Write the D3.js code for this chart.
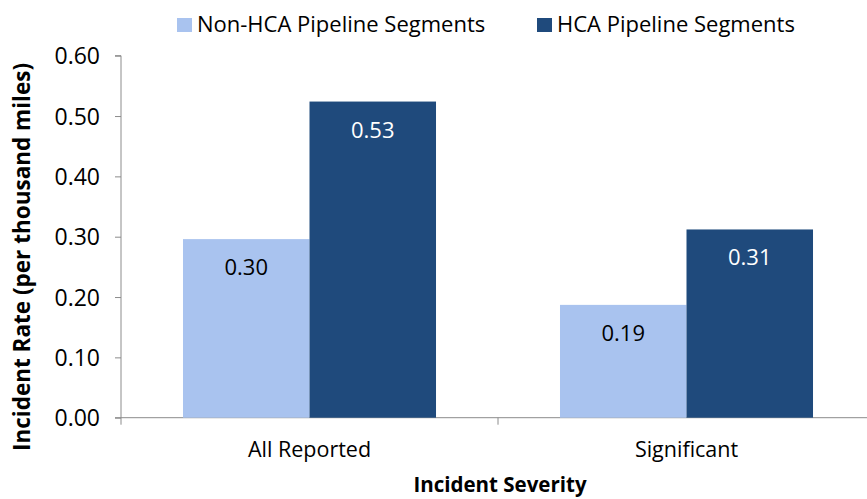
<!DOCTYPE html>
<html>
<head>
    <meta charset="utf-8">
    <title>Incident Rate by Severity</title>
    <style>
        body { margin: 0; background: #fff; }
        text { font-family: "Open Sans", sans-serif; fill: #000; }
        .axis-title { font-weight: bold; }
        .legend-text { font-size: 22px; }
        .bar-label { font-size: 22px; }
    </style>
</head>
<body>
    <div id="chart"></div>

    <script src="https://d3js.org/d3.v7.min.js"></script>
    <script>
        // data
        var categories = ["All Reported", "Significant"];
        var seriesNames = ["Non-HCA Pipeline Segments", "HCA Pipeline Segments"];
        var nonHca = [0.296, 0.187];
        var hca = [0.524, 0.312];
        var valueLabels = [["0.30", "0.19"], ["0.53", "0.31"]];
        var yTicks = [0, 0.1, 0.2, 0.3, 0.4, 0.5, 0.6];
        var colors = ["#a9c3ef", "#1f4a7c"];
        var labelColors = ["#000", "#fff"];

        var width = 867;
        var height = 499;

        var svg = d3.select("#chart")
            .append("svg")
            .attr("width", width)
            .attr("height", height);

        var y = d3.scaleLinear()
            .domain([0, 0.6])
            .range([417.7, 55.7]);

        var x0 = d3.scaleBand()
            .domain(categories)
            .range([121, 875])
            .padding(0);

        var x1 = d3.scaleBand()
            .domain([0, 1])
            .range([0, x0.bandwidth()])
            .paddingInner(0)
            .paddingOuter(0.49);

        var series = [nonHca, hca];

        // y axis
        var yAxis = d3.axisLeft(y)
            .tickValues(yTicks)
            .tickSize(6)
            .tickPadding(15)
            .tickFormat(d3.format(".2f"));

        var gy = svg.append("g")
            .attr("transform", "translate(" + 121 + ",0)")
            .call(yAxis);
        gy.select(".domain").attr("stroke", "#8c8c8c").attr("d", "M0," + y(0) + "V" + y(0.6) + "H-6M0," + y(0) + "H-6");
        gy.selectAll(".tick line").attr("stroke", "#8c8c8c");
        gy.selectAll(".tick text")
            .attr("dy", "0.36em")
            .style("font-family", "'Open Sans', sans-serif")
            .style("font-size", "23px")
            .attr("fill", "#000");

        // x axis
        var xAxis = d3.axisBottom(x0)
            .tickSize(0)
            .tickPadding(24);

        var gx = svg.append("g")
            .attr("transform", "translate(0," + y(0) + ")")
            .call(xAxis);
        gx.select(".domain").attr("stroke", "#8c8c8c").attr("d", "M121,0H875");
        gx.selectAll(".tick text")
            .style("font-family", "'Open Sans', sans-serif")
            .style("font-size", "21.5px")
            .attr("fill", "#000")
            .attr("dy", "0.71em");

        // boundary ticks between categories
        var bounds = categories.map(function (c) { return x0(c); }).concat([x0.range()[1]]);
        gx.selectAll(".bound")
            .data(bounds)
            .enter().append("line")
            .attr("class", "bound")
            .attr("x1", function (d) { return d; })
            .attr("x2", function (d) { return d; })
            .attr("y1", 0)
            .attr("y2", 7)
            .attr("stroke", "#8c8c8c");

        // bars
        var groups = svg.selectAll(".group")
            .data(series)
            .enter().append("g")
            .attr("class", "group");

        groups.each(function (vals, si) {
            var g = d3.select(this);
            g.selectAll("rect")
                .data(vals)
                .enter().append("rect")
                .attr("x", function (d, i) { return x0(categories[i]) + x1(si); })
                .attr("y", function (d) { return y(d); })
                .attr("width", x1.bandwidth())
                .attr("height", function (d) { return y(0) - y(d); })
                .attr("fill", colors[si]);

            g.selectAll("text")
                .data(vals)
                .enter().append("text")
                .attr("class", "bar-label")
                .attr("x", function (d, i) { return x0(categories[i]) + x1(si) + x1.bandwidth() / 2; })
                .attr("y", function (d) { return y(d) + 36; })
                .attr("text-anchor", "middle")
                .style("fill", labelColors[si])
                .text(function (d, i) { return valueLabels[si][i]; });
        });

        // axis titles
        svg.append("text")
            .attr("class", "axis-title")
            .attr("transform", "translate(30,257) rotate(-90)")
            .attr("text-anchor", "middle")
            .style("font-size", "22.5px")
            .text("Incident Rate (per thousand miles)");

        svg.append("text")
            .attr("class", "axis-title")
            .attr("x", 500)
            .attr("y", 492)
            .attr("text-anchor", "middle")
            .style("font-size", "20.5px")
            .text("Incident Severity");

        // legend
        var legendX = [177, 537];
        var legend = svg.selectAll(".legend")
            .data(seriesNames)
            .enter().append("g")
            .attr("class", "legend")
            .attr("transform", function (d, i) { return "translate(" + legendX[i] + ",18)"; });

        legend.append("rect")
            .attr("width", 15)
            .attr("height", 14)
            .attr("fill", function (d, i) { return colors[i]; });

        legend.append("text")
            .attr("class", "legend-text")
            .attr("x", 20)
            .attr("y", 14)
            .text(function (d) { return d; });
    </script>
</body>
</html>
